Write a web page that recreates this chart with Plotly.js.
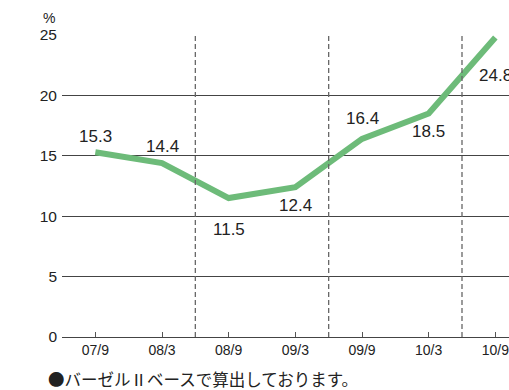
<!DOCTYPE html>
<html>
<head>
<meta charset="utf-8">
<script src="https://cdn.plot.ly/plotly-3.0.1.min.js"></script>
<style>html,body{margin:0;padding:0;background:#fff;}#chart{width:509px;height:390px;}</style>
</head>
<body>
<div id="chart"></div>
<script>
const categories = ["07/9", "08/3", "08/9", "09/3", "09/9", "10/3", "10/9"];
const ratios = [15.3, 14.4, 11.5, 12.4, 16.4, 18.5, 24.8];
const yTicks = [0, 5, 10, 15, 20, 25];
const periodBreaks = [1.5, 3.5, 5.5];
const labelShift = [16, 17, -31, -18, 20, -18, -38];
const footnote = "●バーゼルⅡベースで算出しております。";

const xIdx = categories.map((c, i) => i);
const font = "Liberation Sans, Arial, Helvetica, sans-serif";

const trace = {
  x: xIdx, y: ratios, type: "scatter", mode: "lines",
  line: {color: "#6dbb79", width: 6},
  cliponaxis: false, hoverinfo: "skip"
};

const annotations = ratios.map((v, i) => ({
  x: i, y: v, xref: "x", yref: "y", text: v.toFixed(1), showarrow: false,
  yshift: labelShift[i], font: {family: font, size: 17, color: "#222"}
}));
annotations.push({
  xref: "paper", yref: "y", x: -0.03, y: 25, yshift: 17, xanchor: "center",
  text: "%", showarrow: false, font: {family: font, size: 14, color: "#222"}
});
annotations.push({
  xref: "paper", yref: "paper", x: -0.035, y: -0.139, xanchor: "left", yanchor: "middle",
  text: footnote, showarrow: false,
  font: {family: "Noto Sans CJK SC, Noto Sans CJK JP, sans-serif", size: 16.5, color: "#222"}
});

const shapes = periodBreaks.map(b => ({
  type: "line", xref: "x", yref: "y", x0: b, x1: b, y0: 0, y1: 25,
  line: {color: "#666", width: 1.3, dash: "5px,3px"}
}));

const layout = {
  width: 509, height: 390,
  margin: {l: 62, r: 0, t: 35, b: 53},
  paper_bgcolor: "#fff", plot_bgcolor: "#fff",
  showlegend: false,
  xaxis: {
    range: [-0.5, 6.205], tickmode: "array", tickvals: xIdx, ticktext: categories,
    ticks: "inside", ticklen: 5, tickcolor: "#555", tickwidth: 1,
    ticklabeloverflow: "allow",
    showgrid: false, zeroline: false, showline: true, linecolor: "#444", linewidth: 1,
    tickfont: {family: font, size: 14, color: "#222"}, fixedrange: true
  },
  yaxis: {
    range: [0, 25], tickmode: "array", tickvals: yTicks,
    showgrid: true, gridcolor: "#444", gridwidth: 1, zeroline: false, showline: false,
    ticks: "", ticklabelstandoff: 4,
    tickfont: {family: font, size: 15.5, color: "#222"}, fixedrange: true
  },
  shapes: shapes,
  annotations: annotations
};

Plotly.newPlot("chart", [trace], layout, {displayModeBar: false, staticPlot: true});
</script>
</body>
</html>
